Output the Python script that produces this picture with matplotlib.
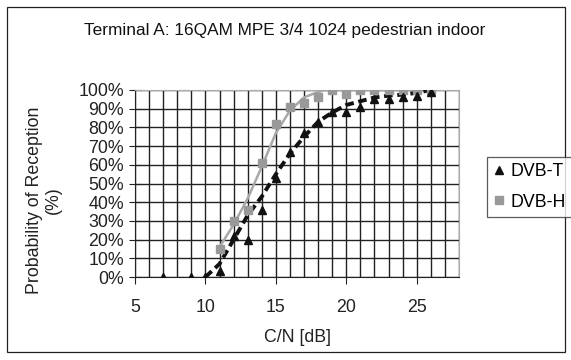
import matplotlib
matplotlib.use("Agg")
import matplotlib.pyplot as plt
from matplotlib.patches import Rectangle
from matplotlib.ticker import MultipleLocator, PercentFormatter

plt.rcParams['font.family'] = ['Liberation Sans', 'DejaVu Sans']

# DVB-T measured points (C/N dB, % reception)
t_x = [7, 9, 10, 11, 12, 13, 14, 15, 16, 17, 18, 19, 20, 21, 22, 23, 24, 25, 26]
t_y = [0, 0, 0, 3, 22, 20, 36, 53, 67, 77, 83, 88, 88, 91, 95, 95, 96, 97, 99]
# DVB-T fitted curve (dashed)
tf_x = [10, 11, 12, 13, 14, 15, 16, 17, 18, 19, 20, 21, 22, 23, 24, 25, 26]
tf_y = [0, 7, 20, 33, 43, 55, 66, 75, 83, 88, 92, 94, 96, 97, 97.5, 98.5, 100]

# DVB-H measured points
h_x = [11, 12, 13, 14, 15, 16, 17, 18, 19, 20, 21, 22, 23, 24, 25, 26]
h_y = [15, 30, 36, 61, 82, 91, 93, 96, 100, 98, 100, 100, 100, 100, 100, 100]
# DVB-H fitted curve (solid)
hf_x = [11, 12, 13, 14, 15, 16, 17, 18, 18.5, 19, 20, 21, 22, 23, 24, 25, 26]
hf_y = [16, 28, 42, 59, 77, 89, 96, 99, 100, 100, 100, 100, 100, 100, 100, 100, 100]

title = "Terminal A: 16QAM MPE 3/4 1024 pedestrian indoor"
xlabel = "C/N [dB]"
ylabel = "Probability of Reception\n(%)"
labels = ["DVB-T", "DVB-H"]

fig = plt.figure(figsize=(5.71, 3.6), dpi=100)
W, H = 571, 360
# outer chart border
fig.patches.append(Rectangle((7 / W, 1 - 352 / H), 558 / W, 345 / H, transform=fig.transFigure,
                             fill=False, edgecolor='#222222', linewidth=0.9))

left, right, top, bottom = 135, 459, 90, 277
ax = fig.add_axes([left / W, 1 - bottom / H, (right - left) / W, (bottom - top) / H])
ax.set_xlim(5, 28)
ax.set_ylim(0, 100)

ax.xaxis.set_major_locator(MultipleLocator(5))
ax.xaxis.set_minor_locator(MultipleLocator(1))
ax.yaxis.set_major_locator(MultipleLocator(10))
ax.yaxis.set_major_formatter(PercentFormatter(decimals=0))
ax.grid(True, which='both', color='#222222', linewidth=1.0)
ax.set_axisbelow(True)

for s in ['top', 'right']:
    ax.spines[s].set_color('#aaaaaa')
for s in ['left', 'bottom']:
    ax.spines[s].set_color('#222222')

fs = 12.8
ax.tick_params(axis='x', which='major', direction='out', length=5, labelsize=fs, pad=11, colors='#222222')
ax.tick_params(axis='x', which='minor', length=0)
ax.tick_params(axis='y', direction='inout', length=8, labelsize=fs, pad=4, colors='#222222')

ax.plot(hf_x, hf_y, color='#a8a8a8', linewidth=1.8, zorder=3)
ax.plot(tf_x, tf_y, color='#111111', linewidth=2.8, linestyle=(0, (2.2, 1.2)), zorder=4)
ax.plot(h_x, h_y, linestyle='none', marker='s', markersize=5.5, color='#999999', zorder=5, label=labels[1])
ax.plot(t_x, t_y, linestyle='none', marker='^', markersize=5.5, color='#111111', zorder=6, label=labels[0])

ax.set_xlabel(xlabel, fontsize=fs, labelpad=9, color='#222222')
fig.text(44 / W, 1 - 200 / H, ylabel, rotation=90, ha='center', va='center', fontsize=fs,
         color='#222222', linespacing=1.15)
fig.text(285 / W, 1 - 30 / H, title, ha='center', va='center', fontsize=12.4, color='#111111')

handles, labs = ax.get_legend_handles_labels()
order = [1, 0]
leg = fig.legend([handles[i] for i in order], [labs[i] for i in order],
                 loc='upper left', bbox_to_anchor=(487 / W, 1 - 157 / H),
                 fontsize=fs, frameon=True, fancybox=False, edgecolor='#333333',
                 handlelength=0.6, handletextpad=0.4, borderpad=0.35, labelspacing=0.75,
                 borderaxespad=0)
leg.get_frame().set_linewidth(0.9)

fig.savefig("out.png", dpi=100)
